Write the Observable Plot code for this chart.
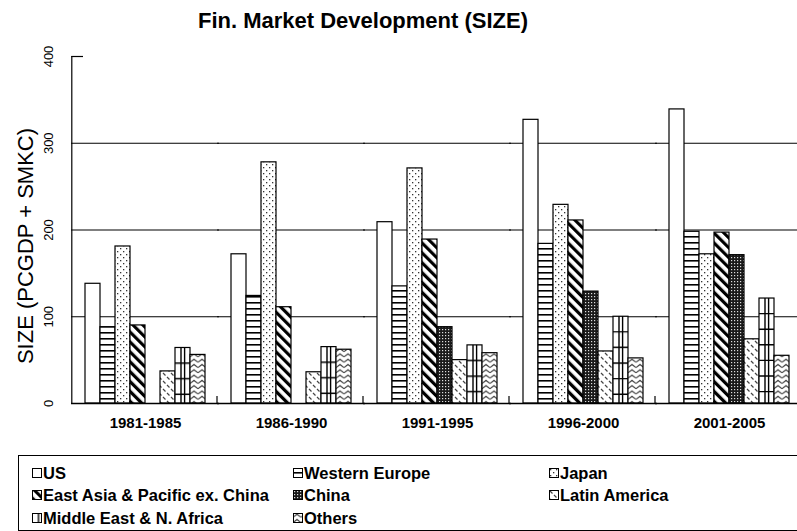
<!DOCTYPE html>
<html>
<head>
<meta charset="utf-8">
<script src="https://cdn.jsdelivr.net/npm/d3@7"></script>
<script src="https://cdn.jsdelivr.net/npm/@observablehq/plot@0.6"></script>
<style>
  body { margin: 0; background: #fff; font-family: "Liberation Sans", Arial, sans-serif; }
  #wrap { position: relative; width: 797px; height: 531px; overflow: hidden; background: #fff; }
  #title { position: absolute; left: 0; top: 10px; width: 726px; text-align: center; font-weight: bold; font-size: 22px; line-height: 22px; color: #000; }
  #chart { position: absolute; left: 0; top: 40px; }
  #legend { position: absolute; left: 18px; top: 455px; width: 800px; height: 74px; border: 1px solid #000; }
  .sw { position: absolute; }
  .lt { position: absolute; font-weight: bold; font-size: 16.5px; line-height: 16px; white-space: nowrap; color: #000; }
</style>
</head>
<body>
<div id="wrap">
  <svg width="0" height="0" style="position:absolute">
    <defs id="defs">
      <pattern id="pWE" patternUnits="userSpaceOnUse" width="6" height="6">
        <rect width="6" height="6" fill="#fff"/>
        <rect y="4" width="6" height="1.6" fill="#000"/>
      </pattern>
      <pattern id="pJP" patternUnits="userSpaceOnUse" width="6" height="6">
        <rect width="6" height="6" fill="#fff"/>
        <rect x="1" y="1" width="1.3" height="1.3" fill="#333"/>
        <rect x="4" y="4" width="1.3" height="1.3" fill="#333"/>
      </pattern>
      <pattern id="pEA" patternUnits="userSpaceOnUse" width="7" height="7" patternTransform="rotate(-45)">
        <rect width="7" height="7" fill="#fff"/>
        <rect width="3.2" height="7" fill="#000"/>
      </pattern>
      <pattern id="pCN" patternUnits="userSpaceOnUse" width="3" height="3">
        <rect width="3" height="3" fill="#1a1a1a"/>
        <rect x="1" y="1" width="1.2" height="1.2" fill="#ddd"/>
      </pattern>
      <pattern id="pLA" patternUnits="userSpaceOnUse" width="8" height="8">
        <rect width="8" height="8" fill="#fff"/>
        <path d="M1,1 L3.5,3.5 M5,5 L7.5,7.5" stroke="#444" stroke-width="1.2"/>
      </pattern>
      <pattern id="pME" patternUnits="objectBoundingBox" width="1" height="1" patternContentUnits="userSpaceOnUse"></pattern>
      <pattern id="pOT" patternUnits="userSpaceOnUse" width="8" height="5.3">
        <rect width="8" height="5.3" fill="#fff"/>
        <path d="M0,4.2 L4,1.2 L8,4.2" fill="none" stroke="#444" stroke-width="1.2"/>
      </pattern>
    </defs>
  </svg>
  <div id="title">Fin. Market Development (SIZE)</div>
  <div id="chart"></div>
  <div id="legend"></div>
</div>
<script>
// ---- data ----
const periods = ["1981-1985", "1986-1990", "1991-1995", "1996-2000", "2001-2005"];
const seriesNames = ["US", "Western Europe", "Japan", "East Asia & Pacific ex. China", "China", "Latin America", "Middle East & N. Africa", "Others"];
const us            = [138, 172, 209, 327, 339];
const westernEurope = [88, 124, 135, 184, 198];
const japan         = [181, 278, 271, 229, 172];
const eastAsia      = [90, 111, 189, 211, 197];
const china         = [null, null, 88, 129, 171];
const latinAmerica  = [37, 36, 50, 60, 74];
const middleEast    = [64, 65, 67, 100, 121];
const others        = [56, 62, 58, 52, 55];
const yTicks = [0, 100, 200, 300, 400];
const yTitle = "SIZE (PCGDP + SMKC)";

const seriesValues = [us, westernEurope, japan, eastAsia, china, latinAmerica, middleEast, others];
const fills = ["#fff", "url(#pWE)", "url(#pJP)", "url(#pEA)", "url(#pCN)", "url(#pLA)", "url(#pME)", "url(#pOT)"];

// MENA large grid pattern (relative to each bar)
(function () {
  const ns = "http://www.w3.org/2000/svg";
  const p = document.getElementById("pME");
  const bg = document.createElementNS(ns, "rect");
  bg.setAttribute("width", 40); bg.setAttribute("height", 420); bg.setAttribute("fill", "#fff");
  p.appendChild(bg);
  let d = "M6,0V420 M9.6,0V420";
  for (let y = 15.6; y < 420; y += 15.6) d += ` M0,${y.toFixed(1)}H40`;
  const path = document.createElementNS(ns, "path");
  path.setAttribute("d", d); path.setAttribute("stroke", "#000"); path.setAttribute("stroke-width", 1.4);
  p.appendChild(path);
})();

const table = [];
periods.forEach((p, i) => seriesNames.forEach((s, j) => {
  const v = seriesValues[j][i];
  if (v != null) table.push({period: p, series: s, value: v});
}));

const first = periods[0];

const chart = Plot.plot({
  width: 797,
  height: 405,
  marginLeft: 69,
  marginRight: 0,
  marginTop: 16,
  marginBottom: 42,
  style: {fontFamily: "'Liberation Sans', Arial, sans-serif", background: "transparent", color: "#000", overflow: "visible"},
  fx: {domain: periods, paddingInner: 0.154, paddingOuter: 0.06, align: 0.665, axis: null},
  x: {domain: seriesNames, padding: 0, axis: null},
  y: {domain: [0, 400], axis: null},
  color: {domain: seriesNames, range: fills},
  marks: [
    Plot.ruleY([100, 200, 300], {stroke: "#000", strokeWidth: 1.2, insetLeft: -12, insetRight: -12}),
    Plot.ruleY([400], {fx: () => first, stroke: "#000", strokeWidth: 1.2, insetLeft: -11.7, insetRight: 124}),
    Plot.barY(table, {fx: "period", x: "series", y: "value", fill: "series", stroke: "#000", strokeWidth: 1.2}),
    Plot.ruleY([0], {stroke: "#000", strokeWidth: 1.5, insetLeft: -12, insetRight: -12}),
    Plot.frame({anchor: "left", facetAnchor: "left", dx: -11.7, stroke: "#000", strokeWidth: 1.2}),
    Plot.ruleX(periods.slice(0, 4), {fx: d => d, x: () => "Others", y1: 0, y2: 8, dx: 19, stroke: "#000", strokeWidth: 1.2}),
    Plot.text(yTicks, {fx: () => first, y: d => d, text: d => String(d), frameAnchor: "left", textAnchor: "middle", lineAnchor: "middle", dx: -34.7, rotate: -90, fontSize: 13, fill: "#000"}),
    Plot.text([yTitle], {fx: () => first, text: d => d, frameAnchor: "left", textAnchor: "middle", lineAnchor: "middle", dx: -57.7, dy: 16, rotate: -90, fontSize: 22, fill: "#000"}),
    Plot.text(periods, {fx: d => d, text: d => d, frameAnchor: "bottom", dy: 24, fontSize: 15, fontWeight: "bold", fill: "#000"})
  ]
});
document.getElementById("chart").appendChild(chart);

// ---- legend ----
const legendLayout = [
  [0, 0], [1, 0], [2, 0],
  [0, 1], [1, 1], [2, 1],
  [0, 2], [1, 2]
];
const colX = [13, 274, 530];
const rowBase = [22.3, 44, 67.3];
const leg = document.getElementById("legend");
seriesNames.forEach((s, i) => {
  const [c, r] = legendLayout[i];
  const sw = document.createElementNS("http://www.w3.org/2000/svg", "svg");
  sw.setAttribute("class", "sw");
  sw.setAttribute("width", 10); sw.setAttribute("height", 10);
  sw.style.left = colX[c] + "px";
  sw.style.top = (rowBase[r] - 10) + "px";
  sw.innerHTML = `<rect x="0.5" y="0.5" width="9" height="9" fill="${fills[i]}" stroke="#000" stroke-width="1"/>`;
  leg.appendChild(sw);
  const t = document.createElement("div");
  t.className = "lt";
  t.textContent = s;
  t.style.left = (colX[c] + 11) + "px";
  t.style.top = (rowBase[r] - 13.5) + "px";
  leg.appendChild(t);
});
</script>
</body>
</html>
